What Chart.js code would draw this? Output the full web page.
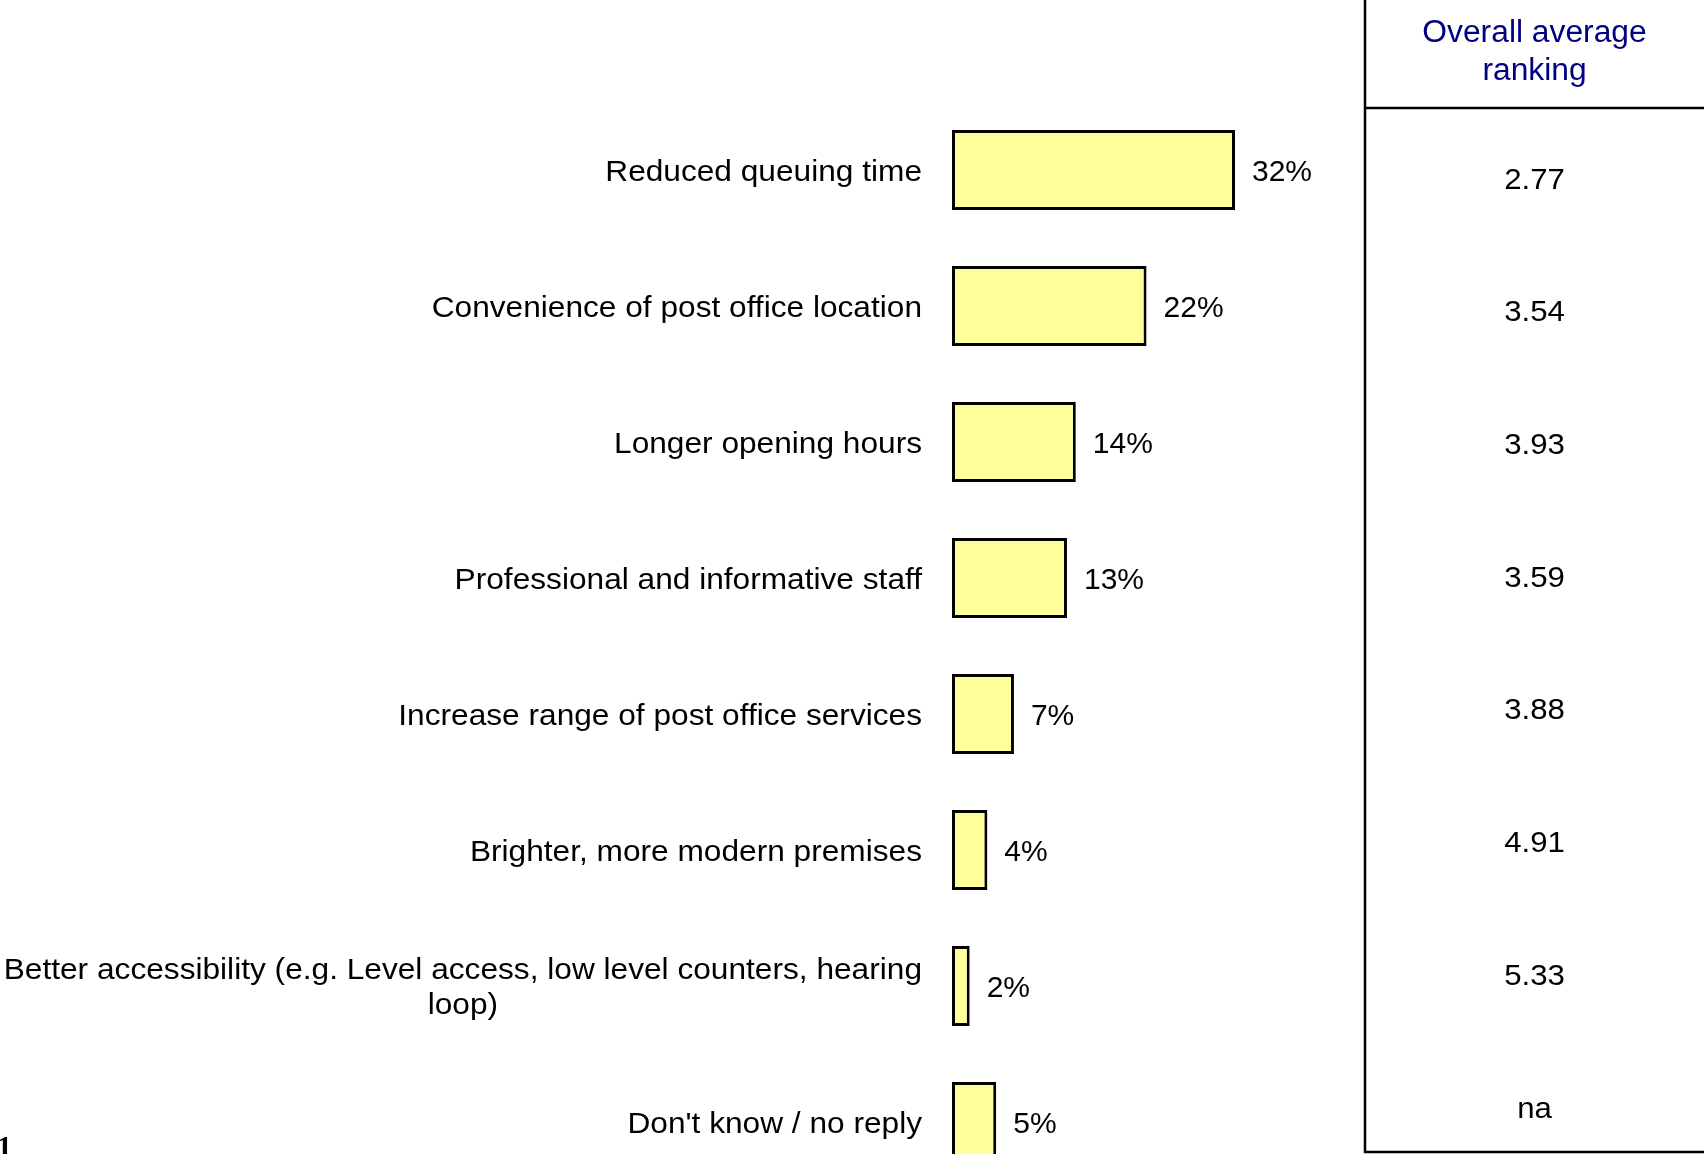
<!DOCTYPE html>
<html>
<head>
<meta charset="utf-8">
<script src="https://cdn.jsdelivr.net/npm/chart.js@4.4.1/dist/chart.umd.min.js"></script>
<style>
  html, body { margin: 0; padding: 0; background: #fff; overflow: hidden; }
  #wrap { position: relative; width: 1704px; height: 1200px; }
  #page-num { position: absolute; left: -3px; top: 1129px; font: bold 30px "Liberation Serif", serif; color: #000; }
</style>
</head>
<body>
<div id="wrap">
  <canvas id="chart"></canvas>
  <div id="page-num">1</div>
</div>
<script>
const categories = [
  "Reduced queuing time",
  "Convenience of post office location",
  "Longer opening hours",
  "Professional and informative staff",
  "Increase range of post office services",
  "Brighter, more modern premises",
  ["Better accessibility (e.g. Level access, low level counters, hearing", "loop)"],
  "Don't know / no reply",
];
const percentValues = [32, 22, 14, 13, 7, 4, 2, 5];
const rankingHeader = ["Overall average", "ranking"];
const rankingValues = ["2.77", "3.54", "3.93", "3.59", "3.88", "4.91", "5.33", "na"];

const FONT = '"Liberation Sans", Arial, sans-serif';
const BAR_FILL = "#ffff99";
const HEADER_COLOR = "#000080";
const TABLE_LEFT = 1365; // left border of the ranking table
const HEADER_LINE_Y = 108;
const TABLE_BOTTOM = 1152;
const BASELINE_SHIFT = 10.5; // alphabetic baseline below the row centre
const TEXT_STRETCH = 1.055; // the original text is a bit wider than Arial
const TABLE_ROW_SHIFT = 8; // first table row sits a little below the first bar
const TABLE_ROW_PITCH = 0.976; // table rows are slightly tighter than the bars

// fillText with a horizontal stretch around the anchor point
function drawText(ctx, text, x, y, sx) {
  ctx.save();
  ctx.translate(x, y);
  ctx.scale(sx, 1);
  ctx.fillText(text, 0, 0);
  ctx.restore();
}

// draws category labels, % labels and the ranking table
const textLayer = {
  id: "textLayer",
  afterDatasetsDraw(chart) {
    const { ctx, chartArea, scales } = chart;
    const bars = chart.getDatasetMeta(0).data;
    ctx.save();
    ctx.fillStyle = "#000";
    ctx.textBaseline = "alphabetic";
    ctx.font = "30px " + FONT;

    // category labels: right aligned, extra lines centred under the first one
    categories.forEach((label, i) => {
      const lines = Array.isArray(label) ? label : [label];
      const widest = Math.max(...lines.map((l) => ctx.measureText(l).width)) * TEXT_STRETCH;
      const right = chartArea.left - 30;
      const lh = 35;
      const first = scales.y.getPixelForValue(i) + BASELINE_SHIFT - ((lines.length - 1) * lh) / 2;
      ctx.textAlign = "center";
      lines.forEach((line, j) => drawText(ctx, line, right - widest / 2, first + j * lh, TEXT_STRETCH));
    });

    // percentage labels at the end of each bar
    ctx.textAlign = "left";
    bars.forEach((bar, i) => {
      drawText(ctx, percentValues[i] + "%", bar.x + 17, bar.y + BASELINE_SHIFT, 1);
    });

    // ranking table
    const right = chart.width;
    const cx = (TABLE_LEFT + right) / 2;
    ctx.strokeStyle = "#000";
    ctx.lineWidth = 2.5;
    ctx.beginPath();
    ctx.moveTo(TABLE_LEFT, 0);
    ctx.lineTo(TABLE_LEFT, TABLE_BOTTOM);
    ctx.lineTo(right, TABLE_BOTTOM);
    ctx.moveTo(TABLE_LEFT, HEADER_LINE_Y);
    ctx.lineTo(right, HEADER_LINE_Y);
    ctx.stroke();

    ctx.textAlign = "center";
    ctx.fillStyle = HEADER_COLOR;
    ctx.font = "31px " + FONT;
    drawText(ctx, rankingHeader[0], cx, 42, 1.025);
    drawText(ctx, rankingHeader[1], cx, 80, 1.025);

    ctx.fillStyle = "#000";
    ctx.font = "30px " + FONT;
    const y0 = scales.y.getPixelForValue(0);
    const step = scales.y.getPixelForValue(1) - y0;
    rankingValues.forEach((v, i) => {
      const rowY = y0 + TABLE_ROW_SHIFT + i * step * TABLE_ROW_PITCH;
      drawText(ctx, v, cx, rowY + BASELINE_SHIFT, 1.04);
    });
    ctx.restore();
  },
};

new Chart(document.getElementById("chart"), {
  type: "bar",
  data: {
    labels: categories,
    datasets: [
      {
        data: percentValues,
        backgroundColor: BAR_FILL,
        borderColor: "#000",
        borderWidth: 3,
        borderSkipped: false,
        barPercentage: 0.59,
        categoryPercentage: 1,
      },
    ],
  },
  options: {
    indexAxis: "y",
    responsive: true,
    maintainAspectRatio: false,
    animation: false,
    devicePixelRatio: 1,
    layout: {
      padding: { left: 952, right: 339, top: 102, bottom: 10 },
    },
    scales: {
      x: { type: "linear", min: 0, max: 46.7, display: false },
      y: { type: "category", display: false },
    },
    plugins: {
      legend: { display: false },
      tooltip: { enabled: false },
    },
  },
  plugins: [textLayer],
});
</script>
</body>
</html>
